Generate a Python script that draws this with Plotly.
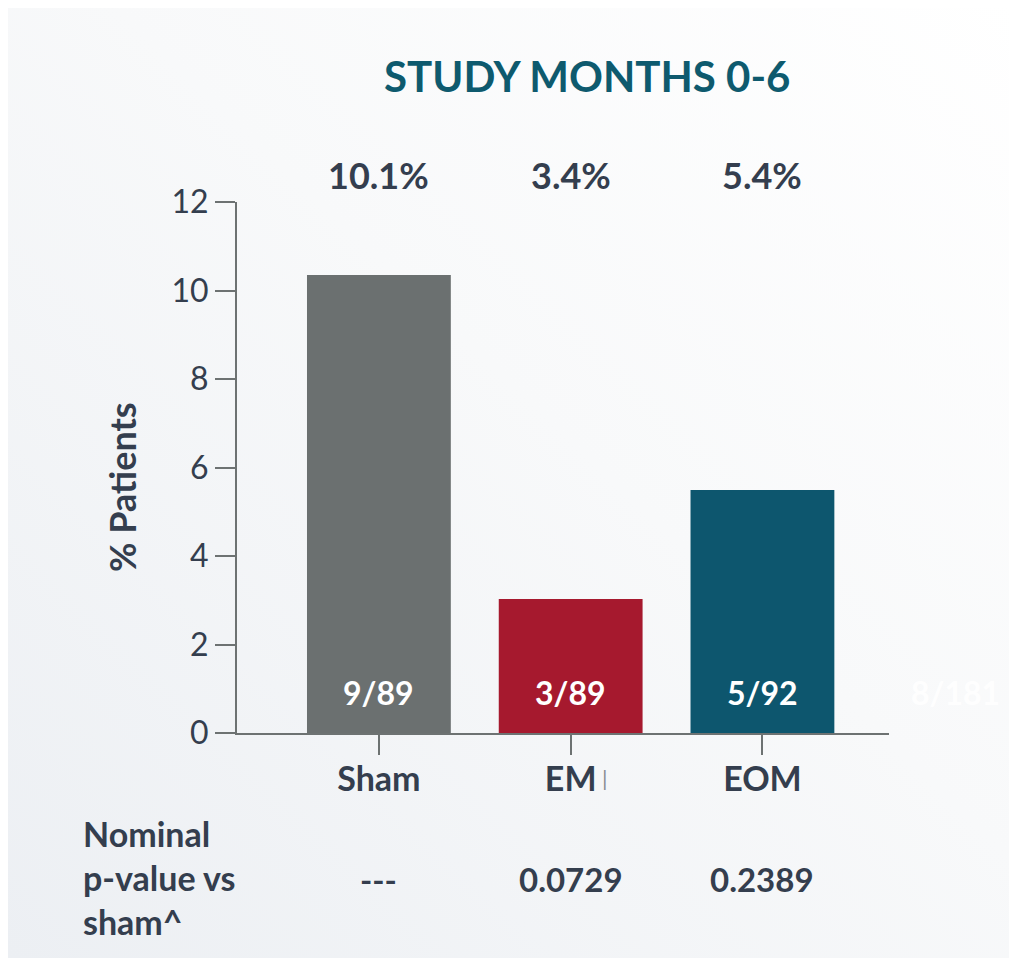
import base64
import plotly.graph_objects as go

# ---- data ----
categories = ["Sham", "EM", "EOM"]
bar_values = [10.35, 3.03, 5.49]
pct_labels = ["10.1%", "3.4%", "5.4%"]
count_labels = ["9/89", "3/89", "5/92"]
pvalue_labels = ["---", "0.0729", "0.2389"]
extra_count_label = "8/181"
y_ticks = [0, 2, 4, 6, 8, 10, 12]

# ---- styles ----
bar_colors = ["#6b7070", "#a6192e", "#0d566e"]
TEXT = "#343e4e"
AXIS = "#6d7272"
FONT = "Lato, 'Open Sans', sans-serif"

OFF = 8  # page body margin
W, H = 1017 - OFF, 963 - OFF
L, R, T, B = 237 - OFF, 128, 202 - OFF, 230
pw, ph = W - L - R, H - T - B

def px_x(px):
    return (px - OFF - L) / pw

def px_y(py):
    return (H - B - (py - OFF)) / ph

def data_y(py):
    return px_y(py) * 12

fig = go.Figure()
fig.add_trace(go.Bar(
    x=categories, y=bar_values, width=0.75,
    marker=dict(color=bar_colors, line=dict(width=0)),
    hoverinfo="skip",
))

svg = ("<svg xmlns='http://www.w3.org/2000/svg' width='1009' height='958' preserveAspectRatio='none'>"
       "<defs><linearGradient id='g' x1='1' y1='0' x2='0' y2='1'>"
       "<stop offset='0' stop-color='#ffffff'/><stop offset='0.45' stop-color='#f8f9fa'/>"
       "<stop offset='1' stop-color='#eceff3'/></linearGradient></defs>"
       "<rect width='100%' height='100%' fill='url(#g)'/></svg>")
src = "data:image/svg+xml;base64," + base64.b64encode(svg.encode()).decode()

fig.add_layout_image(dict(
    source=src, xref="paper", yref="paper",
    x=px_x(8), y=px_y(2), sizex=(1017 - 8) / pw, sizey=956 / ph,
    xanchor="left", yanchor="top", sizing="stretch", layer="below",
))

def A(**kw):
    d = dict(showarrow=False, xanchor="center", yanchor="middle")
    d.update(kw)
    return d

ann = []
ann.append(A(text="STUDY MONTHS 0-6", xref="paper", yref="paper",
             x=px_x(587), y=px_y(76),
             font=dict(family=FONT, size=42, color="#0e5a6e", weight="bold")))
for c, t in zip(categories, pct_labels):
    ann.append(A(text=t, x=c, xref="x", yref="paper", y=px_y(175),
                 font=dict(family=FONT, size=36, color=TEXT, weight="bold")))
for c, t in zip(categories, count_labels):
    ann.append(A(text=t, x=c, xref="x", yref="y", y=data_y(692),
                 font=dict(family=FONT, size=32, color="white", weight="bold")))
ann.append(A(text=extra_count_label, xref="paper", yref="y", x=px_x(955), y=data_y(692),
             font=dict(family=FONT, size=32, color="rgba(255,255,255,0.95)", weight="bold")))
for c, t in zip(categories, pvalue_labels):
    ann.append(A(text=t, x=c, xref="x", yref="paper", y=px_y(879),
                 font=dict(family=FONT, size=33, color=TEXT, weight="bold")))
ann.append(A(text="Nominal<br>p-value vs<br>sham^", xref="paper", yref="paper",
             x=px_x(81), y=px_y(877), xanchor="left", align="left",
             font=dict(family=FONT, size=34, color=TEXT, weight="bold")))
ann.append(A(text="% Patients", xref="paper", yref="paper", x=px_x(122), y=px_y(487),
             textangle=-90,
             font=dict(family=FONT, size=36, color=TEXT, weight="bold")))
ann.append(A(text="|", xref="paper", yref="paper", x=px_x(605), y=px_y(777),
             font=dict(family=FONT, size=22, color="#8a8f94")))

fig.update_layout(
    width=W, height=H,
    margin=dict(l=L, r=R, t=T, b=B),
    paper_bgcolor="white", plot_bgcolor="rgba(0,0,0,0)",
    showlegend=False,
    annotations=ann,
    xaxis=dict(
        type="category", categoryorder="array", categoryarray=categories,
        range=[-0.74, 2.66], showgrid=False, zeroline=False,
        showline=True, linecolor=AXIS, linewidth=2,
        ticks="outside", ticklen=20, tickwidth=2, tickcolor=AXIS,
        ticklabelstandoff=-5,
        tickfont=dict(family=FONT, size=34, color=TEXT, weight="bold"),
    ),
    yaxis=dict(
        range=[0, 12], tickvals=y_ticks, showgrid=False, zeroline=False,
        showline=True, linecolor=AXIS, linewidth=2,
        ticks="outside", ticklen=20, tickwidth=2, tickcolor=AXIS,
        tickfont=dict(family=FONT, size=32, color=TEXT),
    ),
)

fig.write_html("out.html")
